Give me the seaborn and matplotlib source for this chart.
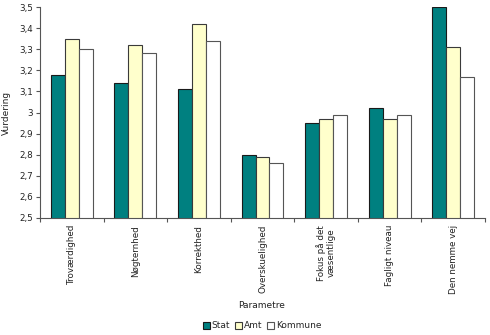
import matplotlib
matplotlib.use("Agg")
import matplotlib.pyplot as plt
import seaborn as sns
import pandas as pd
from matplotlib.ticker import FuncFormatter, MultipleLocator, FixedLocator, NullFormatter

categories = ["Troværdighed", "Nøgternhed", "Korrekthed", "Overskuelighed",
              "Fokus på det\nvæsentlige", "Fagligt niveau", "Den nemme vej"]
series = ["Stat", "Amt", "Kommune"]
stat = [3.18, 3.14, 3.11, 2.80, 2.95, 3.02, 3.50]
amt = [3.35, 3.32, 3.42, 2.79, 2.97, 2.97, 3.31]
kommune = [3.30, 3.28, 3.34, 2.76, 2.99, 2.99, 3.17]

df = pd.DataFrame({
    "Parametre": categories * 3,
    "Serie": [s for s in series for _ in categories],
    "Vurdering": stat + amt + kommune,
})

colors = {"Stat": "#008080", "Amt": "#FFFFCC", "Kommune": "#FFFFFF"}
edges = {"Stat": "#1a1a1a", "Amt": "#3a3a3a", "Kommune": "#555555"}

sns.set_style("white")
plt.rcParams["font.family"] = ["DejaVu Sans"]

fig = plt.figure(figsize=(4.9, 3.35), dpi=100)
ax = fig.add_axes([40 / 490, (335 - 218) / 335, 445 / 490, 211 / 335])

sns.barplot(data=df, x="Parametre", y="Vurdering", hue="Serie",
            palette=colors, width=0.66, ax=ax, legend=False,
            saturation=1, linewidth=0.8, edgecolor="#333333")

# per-series edge tone
for container, s in zip(ax.containers, series):
    for bar in container:
        bar.set_edgecolor(edges[s])

ax.set_ylim(2.5, 3.5)
ax.set_xlim(-0.5, len(categories) - 0.5)
ax.yaxis.set_major_locator(MultipleLocator(0.1))
ax.yaxis.set_major_formatter(FuncFormatter(
    lambda v, p: ("%g" % round(v, 1)).replace(".", ",")))

# category labels on major ticks, separator ticks between groups
ax.set_xticks(range(len(categories)))
ax.set_xticklabels(categories, rotation=90, va="top", ha="center",
                   fontsize=6.3, color="#222222")
ax.xaxis.set_minor_locator(FixedLocator([i + 0.5 for i in range(-1, len(categories))]))
ax.xaxis.set_minor_formatter(NullFormatter())
ax.tick_params(axis="x", which="major", length=0, pad=5, bottom=True)
ax.tick_params(axis="x", which="minor", length=3, width=0.8,
               color="#555555", direction="out", bottom=True)
ax.tick_params(axis="y", length=3, width=0.8, color="#555555",
               direction="out", left=True, labelsize=6.3,
               labelcolor="#222222", pad=2)

for side in ["top", "right"]:
    ax.spines[side].set_visible(False)
for side in ["left", "bottom"]:
    ax.spines[side].set_color("#555555")
    ax.spines[side].set_linewidth(0.8)

ax.set_ylabel("Vurdering", fontsize=6.5, color="#222222", labelpad=6)
ax.set_xlabel("")
fig.text(262 / 490, 1 - 305 / 335, "Parametre", ha="center", va="center",
         fontsize=6.5, color="#222222")

handles = [plt.Rectangle((0, 0), 1, 1, facecolor=colors[s],
                         edgecolor=edges[s], linewidth=0.8) for s in series]
fig.legend(handles, series, loc="center", bbox_to_anchor=(262 / 490, 1 - 326 / 335),
           ncol=3, frameon=False, fontsize=6.5, handlelength=0.8,
           handleheight=0.8, handletextpad=0.2, columnspacing=0.5)

fig.savefig("out.png", dpi=100)
